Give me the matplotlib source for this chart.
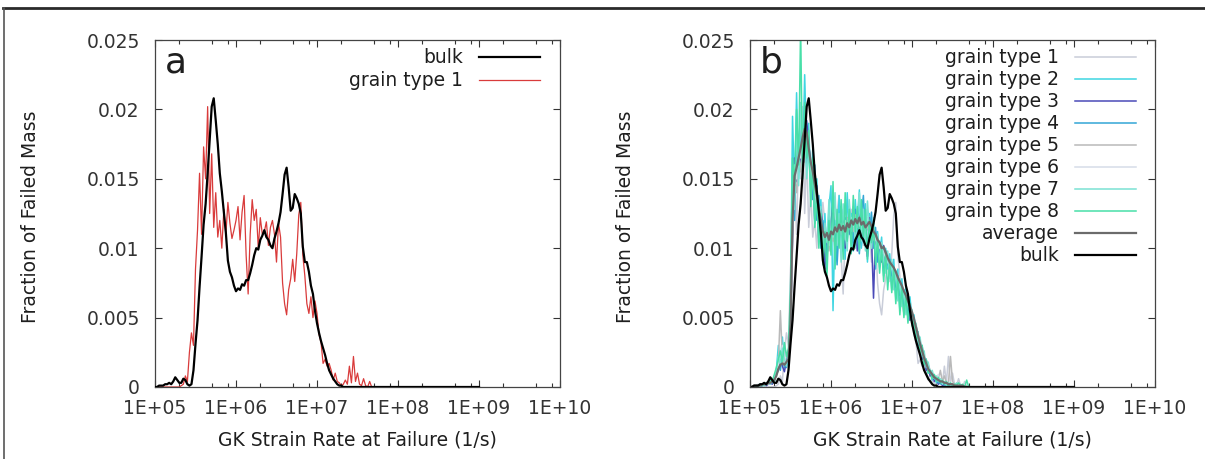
import numpy as np
import matplotlib
matplotlib.use("Agg")
import matplotlib.pyplot as plt
from matplotlib.lines import Line2D
from matplotlib.ticker import (FixedLocator, FuncFormatter, LogLocator,
                               NullLocator)

# ---- data: histogram bins (log10 of GK strain rate, 1/s) ----
LOG_RATE = np.arange(5.0, 7.7001, 0.025)
BULK_END_RATE = 1e9

BULK = [
    0, 0, 0.0001, 0.0001, 0.0001, 0.0002, 0.0002, 0.0003, 0.0002, 0.0004,
    0.0007, 0.0005, 0.0003, 0.0003, 0.0006, 0.0005, 0.0002, 0.0001, 0.0002, 0.0012,
    0.0031, 0.0048, 0.0072, 0.0094, 0.0117, 0.0132, 0.0154, 0.0178, 0.0202, 0.0208,
    0.0192, 0.0175, 0.0154, 0.0141, 0.0126, 0.0111, 0.0091, 0.0083, 0.0079, 0.0073,
    0.0069, 0.0071, 0.0070, 0.0074, 0.0073, 0.0077, 0.0077, 0.0082, 0.0088, 0.0095,
    0.0100, 0.0099, 0.0106, 0.0109, 0.0113, 0.0108, 0.0106, 0.0102, 0.0100, 0.0107,
    0.0112, 0.0118, 0.0126, 0.0139, 0.0153, 0.0158, 0.0144, 0.0127, 0.0129, 0.0139,
    0.0136, 0.0132, 0.0125, 0.0101, 0.0090, 0.0090, 0.0083, 0.0073, 0.0067, 0.0055,
    0.0046, 0.0039, 0.0033, 0.0028, 0.0023, 0.0017, 0.0012, 0.0009, 0.0006, 0.0004,
    0.0002, 0.0001, 0.0001, 0, 0, 0, 0, 0, 0, 0,
    0, 0, 0, 0, 0, 0, 0, 0, 0,
]

GRAIN_1 = [
    0, 0, 0, 0, 0, 0, 0, 0, 0, 0,
    0, 0, 0, 0.0001, 0.0002, 0.0008, 0.0004, 0.0025, 0.0039, 0.0030,
    0.0085, 0.0113, 0.0154, 0.0110, 0.0173, 0.0150, 0.0202, 0.0125, 0.0168, 0.0115,
    0.0140, 0.0108, 0.0120, 0.0100, 0.0128, 0.0110, 0.0133, 0.0118, 0.0107, 0.0113,
    0.0120, 0.0130, 0.0106, 0.0126, 0.0138, 0.0095, 0.0067, 0.0110, 0.0135, 0.0120,
    0.0128, 0.0100, 0.0122, 0.0110, 0.0112, 0.0119, 0.0102, 0.0115, 0.0120, 0.0110,
    0.0090, 0.0118, 0.0108, 0.0075, 0.0060, 0.0052, 0.0070, 0.0078, 0.0092, 0.0076,
    0.0096, 0.0124, 0.0133, 0.0095, 0.0080, 0.0060, 0.0053, 0.0065, 0.0050, 0.0062,
    0.0053, 0.0038, 0.0032, 0.0017, 0.0020, 0.0015, 0.0017, 0.0012, 0.0005, 0.0010,
    0.0004, 0.0003, 0.0001, 0.0002, 0.0005, 0.0002, 0.0015, 0.0003, 0.0022, 0.0004,
    0.0010, 0.0002, 0.0001, 0.0006, 0.0001, 0.0000, 0.0004, 0.0000, 0.0000,
]

GRAIN_2 = [
    0, 0, 0, 0.0001, 0, 0.0002, 0.0001, 0.0003, 0.0001, 0.0004,
    0.0002, 0.0006, 0.0003, 0.0012, 0.0030, 0.0018, 0.0036, 0.0014, 0.0022, 0.0016,
    0.0060, 0.0195, 0.0140, 0.0212, 0.0150, 0.0185, 0.0160, 0.0225, 0.0170, 0.0190,
    0.0140, 0.0172, 0.0125, 0.0150, 0.0110, 0.0135, 0.0098, 0.0125, 0.0090, 0.0130,
    0.0145, 0.0055, 0.0120, 0.0095, 0.0138, 0.0105, 0.0128, 0.0092, 0.0140, 0.0110,
    0.0125, 0.0098, 0.0135, 0.0108, 0.0142, 0.0100, 0.0118, 0.0132, 0.0090, 0.0125,
    0.0105, 0.0118, 0.0085, 0.0112, 0.0095, 0.0108, 0.0080, 0.0100, 0.0085, 0.0096,
    0.0070, 0.0092, 0.0064, 0.0085, 0.0055, 0.0078, 0.0060, 0.0072, 0.0050, 0.0065,
    0.0048, 0.0052, 0.0036, 0.0040, 0.0025, 0.0028, 0.0016, 0.0020, 0.0010, 0.0012,
    0.0005, 0.0009, 0.0003, 0.0006, 0.0002, 0.0004, 0.0001, 0.0003, 0.0001, 0.0002,
    0.0001, 0.0000, 0.0002, 0.0000, 0.0001, 0.0000, 0.0000, 0.0000, 0.0000,
]

GRAIN_3 = [
    0, 0, 0, 0, 0.0001, 0, 0.0001, 0.0002, 0.0001, 0.0002,
    0.0003, 0.0002, 0.0006, 0.0009, 0.0012, 0.0020, 0.0015, 0.0011, 0.0019, 0.0024,
    0.0040, 0.0105, 0.0165, 0.0148, 0.0175, 0.0160, 0.0182, 0.0168, 0.0192, 0.0175,
    0.0160, 0.0150, 0.0118, 0.0145, 0.0105, 0.0128, 0.0115, 0.0085, 0.0112, 0.0100,
    0.0118, 0.0132, 0.0096, 0.0122, 0.0104, 0.0128, 0.0118, 0.0100, 0.0122, 0.0112,
    0.0108, 0.0126, 0.0114, 0.0098, 0.0120, 0.0128, 0.0105, 0.0116, 0.0094, 0.0122,
    0.0108, 0.0064, 0.0112, 0.0098, 0.0104, 0.0090, 0.0102, 0.0086, 0.0095, 0.0082,
    0.0090, 0.0078, 0.0082, 0.0068, 0.0076, 0.0062, 0.0070, 0.0058, 0.0064, 0.0048,
    0.0052, 0.0040, 0.0044, 0.0030, 0.0034, 0.0020, 0.0022, 0.0012, 0.0014, 0.0008,
    0.0010, 0.0004, 0.0006, 0.0002, 0.0004, 0.0001, 0.0002, 0.0001, 0.0001, 0.0000,
    0.0001, 0.0000, 0.0000, 0.0000, 0.0000, 0.0000, 0.0000, 0.0000, 0.0000,
]

GRAIN_4 = [
    0, 0, 0.0001, 0, 0, 0.0001, 0.0002, 0.0001, 0.0003, 0.0002,
    0.0004, 0.0003, 0.0008, 0.0010, 0.0016, 0.0012, 0.0024, 0.0018, 0.0014, 0.0022,
    0.0050, 0.0140, 0.0120, 0.0178, 0.0155, 0.0200, 0.0165, 0.0190, 0.0158, 0.0180,
    0.0150, 0.0135, 0.0160, 0.0120, 0.0138, 0.0100, 0.0120, 0.0108, 0.0095, 0.0118,
    0.0102, 0.0124, 0.0110, 0.0088, 0.0115, 0.0130, 0.0098, 0.0122, 0.0106, 0.0130,
    0.0116, 0.0104, 0.0128, 0.0110, 0.0096, 0.0124, 0.0138, 0.0102, 0.0120, 0.0108,
    0.0126, 0.0100, 0.0115, 0.0090, 0.0105, 0.0096, 0.0084, 0.0098, 0.0088, 0.0092,
    0.0080, 0.0086, 0.0072, 0.0080, 0.0066, 0.0072, 0.0058, 0.0066, 0.0054, 0.0060,
    0.0046, 0.0050, 0.0034, 0.0038, 0.0026, 0.0030, 0.0018, 0.0020, 0.0012, 0.0010,
    0.0008, 0.0006, 0.0005, 0.0003, 0.0004, 0.0002, 0.0003, 0.0001, 0.0002, 0.0001,
    0.0000, 0.0001, 0.0000, 0.0000, 0.0000, 0.0000, 0.0000, 0.0000, 0.0000,
]

GRAIN_5 = [
    0, 0.0001, 0, 0.0001, 0.0001, 0.0002, 0.0001, 0.0002, 0.0003, 0.0002,
    0.0004, 0.0006, 0.0004, 0.0010, 0.0018, 0.0055, 0.0020, 0.0016, 0.0024, 0.0020,
    0.0035, 0.0110, 0.0150, 0.0140, 0.0168, 0.0155, 0.0175, 0.0162, 0.0180, 0.0170,
    0.0155, 0.0148, 0.0140, 0.0130, 0.0122, 0.0115, 0.0110, 0.0102, 0.0112, 0.0098,
    0.0110, 0.0105, 0.0116, 0.0108, 0.0120, 0.0110, 0.0118, 0.0106, 0.0122, 0.0114,
    0.0118, 0.0112, 0.0124, 0.0115, 0.0120, 0.0110, 0.0118, 0.0112, 0.0116, 0.0110,
    0.0112, 0.0106, 0.0108, 0.0100, 0.0102, 0.0096, 0.0098, 0.0092, 0.0094, 0.0088,
    0.0088, 0.0084, 0.0082, 0.0078, 0.0076, 0.0072, 0.0070, 0.0066, 0.0062, 0.0058,
    0.0054, 0.0048, 0.0044, 0.0038, 0.0032, 0.0028, 0.0022, 0.0018, 0.0016, 0.0012,
    0.0010, 0.0008, 0.0007, 0.0005, 0.0012, 0.0004, 0.0008, 0.0003, 0.0003, 0.0022,
    0.0004, 0.0002, 0.0002, 0.0001, 0.0001, 0.0000, 0.0000, 0.0000, 0.0000,
]

GRAIN_6 = [
    0, 0, 0.0001, 0.0001, 0.0002, 0.0001, 0.0002, 0.0002, 0.0003, 0.0004,
    0.0003, 0.0005, 0.0007, 0.0012, 0.0016, 0.0022, 0.0030, 0.0018, 0.0026, 0.0022,
    0.0042, 0.0125, 0.0160, 0.0150, 0.0172, 0.0165, 0.0185, 0.0170, 0.0178, 0.0168,
    0.0158, 0.0150, 0.0138, 0.0132, 0.0125, 0.0118, 0.0112, 0.0106, 0.0110, 0.0102,
    0.0114, 0.0108, 0.0112, 0.0116, 0.0110, 0.0118, 0.0112, 0.0120, 0.0114, 0.0118,
    0.0122, 0.0116, 0.0118, 0.0124, 0.0116, 0.0120, 0.0114, 0.0118, 0.0122, 0.0116,
    0.0110, 0.0112, 0.0106, 0.0104, 0.0100, 0.0102, 0.0096, 0.0094, 0.0090, 0.0088,
    0.0086, 0.0082, 0.0080, 0.0076, 0.0074, 0.0070, 0.0066, 0.0064, 0.0060, 0.0056,
    0.0052, 0.0046, 0.0042, 0.0036, 0.0030, 0.0026, 0.0020, 0.0018, 0.0014, 0.0012,
    0.0009, 0.0008, 0.0006, 0.0009, 0.0004, 0.0005, 0.0003, 0.0004, 0.0002, 0.0003,
    0.0002, 0.0001, 0.0001, 0.0001, 0.0000, 0.0000, 0.0000, 0.0000, 0.0000,
]

GRAIN_7 = [
    0, 0, 0, 0.0001, 0.0001, 0, 0.0002, 0.0001, 0.0002, 0.0003,
    0.0002, 0.0005, 0.0004, 0.0011, 0.0022, 0.0016, 0.0028, 0.0020, 0.0015, 0.0026,
    0.0055, 0.0150, 0.0128, 0.0190, 0.0145, 0.0205, 0.0160, 0.0185, 0.0150, 0.0172,
    0.0135, 0.0158, 0.0118, 0.0142, 0.0106, 0.0130, 0.0092, 0.0118, 0.0104, 0.0135,
    0.0100, 0.0118, 0.0140, 0.0102, 0.0125, 0.0090, 0.0132, 0.0110, 0.0098, 0.0135,
    0.0112, 0.0130, 0.0100, 0.0125, 0.0140, 0.0105, 0.0128, 0.0098, 0.0134, 0.0112,
    0.0100, 0.0122, 0.0094, 0.0110, 0.0086, 0.0104, 0.0092, 0.0082, 0.0098, 0.0078,
    0.0092, 0.0070, 0.0084, 0.0062, 0.0078, 0.0058, 0.0070, 0.0052, 0.0064, 0.0055,
    0.0056, 0.0042, 0.0046, 0.0032, 0.0036, 0.0022, 0.0026, 0.0014, 0.0018, 0.0010,
    0.0012, 0.0006, 0.0008, 0.0004, 0.0006, 0.0002, 0.0004, 0.0001, 0.0003, 0.0001,
    0.0002, 0.0001, 0.0003, 0.0000, 0.0002, 0.0000, 0.0001, 0.0000, 0.0000,
]

GRAIN_8 = [
    0, 0, 0.0001, 0, 0.0001, 0.0002, 0.0001, 0.0003, 0.0002, 0.0003,
    0.0005, 0.0004, 0.0009, 0.0014, 0.0020, 0.0026, 0.0018, 0.0032, 0.0022, 0.0028,
    0.0070, 0.0165, 0.0145, 0.0200, 0.0160, 0.0260, 0.0150, 0.0205, 0.0165, 0.0185,
    0.0130, 0.0165, 0.0115, 0.0140, 0.0100, 0.0125, 0.0088, 0.0112, 0.0080, 0.0120,
    0.0095, 0.0148, 0.0085, 0.0128, 0.0100, 0.0135, 0.0092, 0.0140, 0.0105, 0.0128,
    0.0096, 0.0138, 0.0112, 0.0130, 0.0098, 0.0135, 0.0108, 0.0128, 0.0092, 0.0120,
    0.0104, 0.0115, 0.0088, 0.0106, 0.0082, 0.0100, 0.0076, 0.0096, 0.0070, 0.0090,
    0.0068, 0.0085, 0.0060, 0.0080, 0.0052, 0.0072, 0.0050, 0.0066, 0.0046, 0.0060,
    0.0044, 0.0048, 0.0034, 0.0038, 0.0024, 0.0030, 0.0016, 0.0020, 0.0010, 0.0012,
    0.0006, 0.0009, 0.0004, 0.0007, 0.0003, 0.0005, 0.0002, 0.0004, 0.0001, 0.0003,
    0.0001, 0.0002, 0.0001, 0.0003, 0.0001, 0.0002, 0.0000, 0.0005, 0.0000,
]

AVERAGE = [
    0, 0, 0.0001, 0.0001, 0.0001, 0.0001, 0.0002, 0.0002, 0.0002, 0.0003,
    0.0003, 0.0004, 0.0005, 0.0008, 0.0013, 0.0016, 0.0017, 0.0016, 0.0018, 0.0020,
    0.0045, 0.0120, 0.0152, 0.0158, 0.0165, 0.0172, 0.0180, 0.0186, 0.0183, 0.0172,
    0.0162, 0.0155, 0.0146, 0.0138, 0.0128, 0.0120, 0.0112, 0.0108, 0.0111, 0.0106,
    0.0112, 0.0110, 0.0115, 0.0112, 0.0117, 0.0113, 0.0116, 0.0112, 0.0118, 0.0115,
    0.0120, 0.0117, 0.0121, 0.0118, 0.0122, 0.0117, 0.0119, 0.0115, 0.0117, 0.0119,
    0.0116, 0.0112, 0.0110, 0.0106, 0.0104, 0.0100, 0.0101, 0.0097, 0.0093, 0.0090,
    0.0088, 0.0086, 0.0083, 0.0079, 0.0076, 0.0073, 0.0069, 0.0066, 0.0062, 0.0058,
    0.0054, 0.0049, 0.0043, 0.0037, 0.0031, 0.0026, 0.0021, 0.0017, 0.0013, 0.0011,
    0.0009, 0.0007, 0.0006, 0.0005, 0.0004, 0.0004, 0.0003, 0.0003, 0.0002, 0.0002,
    0.0002, 0.0001, 0.0001, 0.0001, 0.0001, 0.0001, 0, 0, 0,
]

GRAIN_LABELS = [f"grain type {i}" for i in range(1, 9)]
X_TICKS = [1e5, 1e6, 1e7, 1e8, 1e9, 1e10]
Y_TICKS = [0, 0.005, 0.01, 0.015, 0.02, 0.025]

# ---- style ----
GRAIN_COLORS = ["#c9cdd9", "#3fd6e2", "#4a4ab8", "#33a6d6",
                "#b9b9b9", "#d6dde8", "#7be2d3", "#48dfa8"]
RED = "#d93b3b"
AVG_COLOR = "#6b6b6b"
INK = "#1e1e1e"

plt.rcParams.update({
    "font.family": "DejaVu Sans",
    "font.size": 13.5,
    "text.color": INK,
    "axes.labelcolor": INK,
    "xtick.color": "#333333",
    "ytick.color": "#333333",
    "axes.edgecolor": "#444444",
    "axes.linewidth": 0.9,
})

rate = 10 ** LOG_RATE
bulk_x = np.append(rate, BULK_END_RATE)
bulk_y = np.append(BULK, 0.0)

fig = plt.figure(figsize=(12.05, 4.59), dpi=100)
ax_a = fig.add_axes([155 / 1205, 72 / 459, 405 / 1205, 347 / 459])
ax_b = fig.add_axes([750 / 1205, 72 / 459, 405 / 1205, 347 / 459])


def style_axis(ax, letter):
    ax.set_xscale("log")
    ax.set_xlim(1e5, 1e10)
    ax.set_ylim(0, 0.025)
    ax.xaxis.set_major_locator(FixedLocator(X_TICKS))
    ax.xaxis.set_minor_locator(LogLocator(base=10, subs=(2, 5, 8), numticks=20))
    ax.xaxis.set_major_formatter(FuncFormatter(lambda v, p: f"{v:.0E}"))
    ax.yaxis.set_major_locator(FixedLocator(Y_TICKS))
    ax.yaxis.set_minor_locator(NullLocator())
    ax.yaxis.set_major_formatter(FuncFormatter(lambda v, p: f"{v:g}"))
    ax.tick_params(which="both", direction="in", top=True, right=True, width=0.8)
    ax.tick_params(which="major", length=5)
    ax.tick_params(which="minor", length=3)
    ax.tick_params(axis="x", which="major", pad=9)
    ax.tick_params(axis="y", which="major", pad=11)
    ax.set_xlabel("GK Strain Rate at Failure (1/s)", labelpad=9)
    ax.set_ylabel("Fraction of Failed Mass")
    ax.yaxis.set_label_coords(-0.285, 0.49)
    ax.text(0.025, 0.905, letter, transform=ax.transAxes, fontsize=26,
            ha="left", va="baseline")


# panel a
ax_a.plot(bulk_x, bulk_y, color="black", lw=1.6, label="bulk", zorder=3)
ax_a.plot(rate, GRAIN_1, color=RED, lw=0.9, label="grain type 1", zorder=2)
style_axis(ax_a, "a")
ax_a.legend(loc="upper right", bbox_to_anchor=(0.951, 0.976), markerfirst=False,
            frameon=False, borderpad=0, borderaxespad=0, handlelength=3.25,
            handletextpad=0.85, labelspacing=0.22)

# panel b
grains = [GRAIN_1, GRAIN_2, GRAIN_3, GRAIN_4, GRAIN_5, GRAIN_6, GRAIN_7, GRAIN_8]
for vals, col, lab in zip(grains, GRAIN_COLORS, GRAIN_LABELS):
    ax_b.plot(rate, vals, color=col, lw=1.1, label=lab)
ax_b.plot(rate, AVERAGE, color=AVG_COLOR, lw=1.6, label="average")
ax_b.plot(bulk_x, bulk_y, color="black", lw=1.6, label="bulk")
style_axis(ax_b, "b")
ax_b.legend(loc="upper right", bbox_to_anchor=(0.953, 0.976), markerfirst=False,
            frameon=False, borderpad=0, borderaxespad=0, handlelength=3.25,
            handletextpad=0.85, labelspacing=0.16)

# outer frame of the original screenshot
fig.add_artist(Line2D([3 / 1205, 1], [1 - 8 / 459, 1 - 8 / 459],
                      transform=fig.transFigure, color="#2a2a2a", lw=2))
fig.add_artist(Line2D([4 / 1205, 4 / 1205], [0, 1 - 8 / 459],
                      transform=fig.transFigure, color="#555555", lw=1.2))

fig.savefig("out.png", dpi=100)
